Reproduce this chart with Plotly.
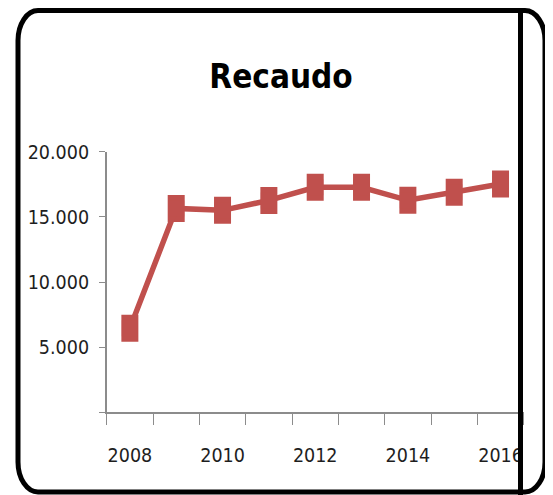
import plotly.graph_objects as go

# ---- data ----
years = [2008, 2009, 2010, 2011, 2012, 2013, 2014, 2015, 2016]
recaudo = [6450, 15650, 15500, 16260, 17270, 17270, 16270, 16880, 17520]
x_label_vals = [2008, 2010, 2012, 2014, 2016]
x_label_text = ["2008", "2010", "2012", "2014", "2016"]
y_tick_vals = [0, 5000, 10000, 15000, 20000]
y_tick_text = ["", "5.000", "10.000", "15.000", "20.000"]
chart_title = "Recaudo"

# ---- style ----
W, H = 553, 495
PAGE_OFFSET = 8  # default page margin around the figure
RED = "#C0504D"
AXIS = "#8C8C8C"
TEXT = "#1E1E1E"
FONT = "DejaVu Sans Condensed, Liberation Sans, Arial, sans-serif"
MARKER_HALF_HEIGHT = 1036  # vertical half-extent of the tall square markers (axis units)


def px(x):
    return (x - PAGE_OFFSET) / W


def py(y):
    return 1 - (y - PAGE_OFFSET) / H


boundaries = [y - 0.5 for y in years] + [years[-1] + 0.5]

fig = go.Figure()
fig.add_trace(
    go.Scatter(
        x=years,
        y=recaudo,
        mode="lines+markers",
        line=dict(color=RED, width=5.5),
        marker=dict(symbol="square", size=16, color=RED),
        error_y=dict(type="constant", value=MARKER_HALF_HEIGHT, thickness=17,
                     width=0, color=RED),
        hoverinfo="skip",
        showlegend=False,
    )
)


def rounded_rect(x0, y0, x1, y1, rx, ry):
    k = 0.5523
    X0, X1 = px(x0), px(x1)
    Y0, Y1 = py(y0), py(y1)
    RX, RY = rx / W, ry / H
    return (
        f"M {X0 + RX},{Y0} L {X1 - RX},{Y0} "
        f"C {X1 - RX + k * RX},{Y0} {X1},{Y0 - RY + k * RY} {X1},{Y0 - RY} "
        f"L {X1},{Y1 + RY} "
        f"C {X1},{Y1 + RY - k * RY} {X1 - RX + k * RX},{Y1} {X1 - RX},{Y1} "
        f"L {X0 + RX},{Y1} "
        f"C {X0 + RX - k * RX},{Y1} {X0},{Y1 + RY - k * RY} {X0},{Y1 + RY} "
        f"L {X0},{Y0 - RY} "
        f"C {X0},{Y0 - RY + k * RY} {X0 + RX - k * RX},{Y0} {X0 + RX},{Y0} Z"
    )


shapes = [
    dict(type="path", xref="paper", yref="paper",
         path=rounded_rect(18, 10.5, 545, 492, 20, 30),
         line=dict(color="black", width=5), layer="above"),
    dict(type="line", xref="paper", yref="paper",
         x0=px(520.5), x1=px(520.5), y0=py(-20), y1=py(520),
         line=dict(color="black", width=5), layer="above"),
]

fig.update_layout(
    template="none",
    width=W,
    height=H,
    autosize=False,
    margin=dict(l=0, r=0, t=0, b=0, pad=0),
    paper_bgcolor="white",
    plot_bgcolor="white",
    font=dict(family=FONT, color=TEXT),
    title=dict(text=f"<b>{chart_title}</b>", x=px(281), y=py(76),
               xanchor="center", yanchor="middle", xref="paper", yref="paper",
               automargin=False,
               font=dict(size=33, family=FONT, color="black")),
    shapes=shapes,
    xaxis=dict(
        domain=[px(106.7), px(523.7)],
        range=[years[0] - 0.5, years[-1] + 0.5],
        automargin=False,
        tickmode="array",
        tickvals=x_label_vals,
        ticktext=x_label_text,
        ticks="",
        ticklabelstandoff=25,
        tickfont=dict(size=19.5, family=FONT, color=TEXT),
        minor=dict(tickmode="array", tickvals=boundaries, ticks="outside",
                   ticklen=11, tickwidth=1.3, tickcolor=AXIS, showgrid=False),
        showline=True, linecolor=AXIS, linewidth=1.5,
        showgrid=False, zeroline=False, fixedrange=True,
    ),
    yaxis=dict(
        domain=[py(412.3), py(151.7)],
        range=[0, 20000],
        automargin=False,
        tickmode="array",
        tickvals=y_tick_vals,
        ticktext=y_tick_text,
        ticks="outside", ticklen=6, tickwidth=1.3, tickcolor=AXIS,
        ticklabelstandoff=6,
        tickfont=dict(size=19.5, family=FONT, color=TEXT),
        showline=True, linecolor=AXIS, linewidth=1.5,
        showgrid=False, zeroline=False, fixedrange=True,
    ),
)

fig.write_html("out.html", config=dict(displayModeBar=False))
